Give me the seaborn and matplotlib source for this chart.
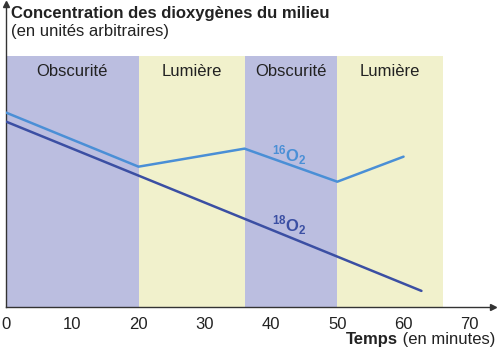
import matplotlib
matplotlib.use("Agg")
import matplotlib.pyplot as plt
import numpy as np
import pandas as pd
import seaborn as sns

# periods (minutes)
period_starts = [0, 20, 36, 50]
period_ends = [20, 36, 50, 66]
period_names = ["Obscurité", "Lumière", "Obscurité", "Lumière"]

# 16O2 concentration (arbitrary units)
t_16 = [0, 20, 36, 50, 60]
o2_16 = [7.76, 5.6, 6.32, 5.0, 6.0]

# 18O2 concentration (arbitrary units)
t_18 = [0, 62.7]
o2_18 = [7.4, 0.64]

x_ticks = [0, 10, 20, 30, 40, 50, 60, 70]

df16 = pd.DataFrame({"t": t_16, "c": o2_16})
df18 = pd.DataFrame({"t": t_18, "c": o2_18})

sns.set_style("white")
plt.rcParams['font.family'] = ['Liberation Sans', 'DejaVu Sans']
plt.rcParams['mathtext.fontset'] = 'custom'
plt.rcParams['mathtext.rm'] = 'Liberation Sans:bold'
plt.rcParams['mathtext.bf'] = 'Liberation Sans:bold'

dark = "#bbbee0"
light = "#f1f1cc"
col16 = "#4a8fd6"
col18 = "#3b4fa3"

fig = plt.figure(figsize=(5, 3.54), dpi=100)
ax = fig.add_axes([0.012, 0.133, 0.974, 0.856])

for s, e, name in zip(period_starts, period_ends, period_names):
    c = dark if name == "Obscurité" else light
    ax.axvspan(s, e, ymin=0, ymax=10 / 12.1, color=c, lw=0, zorder=0)
    ax.text((s + e) / 2, 9.4, name, ha="center", va="center", fontsize=12, color="#222222")

sns.lineplot(data=df16, x="t", y="c", ax=ax, color=col16, lw=1.8, zorder=3)
sns.lineplot(data=df18, x="t", y="c", ax=ax, color=col18, lw=1.8, zorder=3)

ax.text(42.8, 6.05, r"$^{16}$O$_2$", color=col16, fontsize=12, fontweight="bold", ha="center", va="center")
ax.text(42.8, 3.25, r"$^{18}$O$_2$", color=col18, fontsize=12, fontweight="bold", ha="center", va="center")

ax.set_xlim(0, 73.5)
ax.set_ylim(0, 12.1)
ax.set_xticks(x_ticks)
ax.set_xticklabels([str(v) for v in x_ticks], fontsize=12, color="#222222")
ax.set_yticks([])
ax.tick_params(axis="x", length=0, pad=7)
ax.set_xlabel("")
ax.set_ylabel("")
for sp in ["top", "right"]:
    ax.spines[sp].set_visible(False)
for sp in ["left", "bottom"]:
    ax.spines[sp].set_color("#333333")
    ax.spines[sp].set_linewidth(1.0)

# arrow heads
ax.plot(1, 0, ">", transform=ax.transAxes, color="#333333", ms=5, clip_on=False)
ax.plot(0, 1, "^", transform=ax.transAxes, color="#333333", ms=4, clip_on=False)

fig.text(0.022, 0.982, "Concentration des dioxygènes du milieu", fontsize=12,
         fontweight="bold", ha="left", va="top", color="#222222")
fig.text(0.022, 0.932, "(en unités arbitraires)", fontsize=12, ha="left", va="top", color="#222222")
unit = fig.text(0.99, 0.02, " (en minutes)", fontsize=12, ha="right", va="bottom", color="#222222")
fig.canvas.draw()
bb = unit.get_window_extent().transformed(fig.transFigure.inverted())
fig.text(bb.x0, 0.02, "Temps", fontsize=12, fontweight="bold", ha="right", va="bottom", color="#222222")

fig.savefig("out.png", dpi=100)
